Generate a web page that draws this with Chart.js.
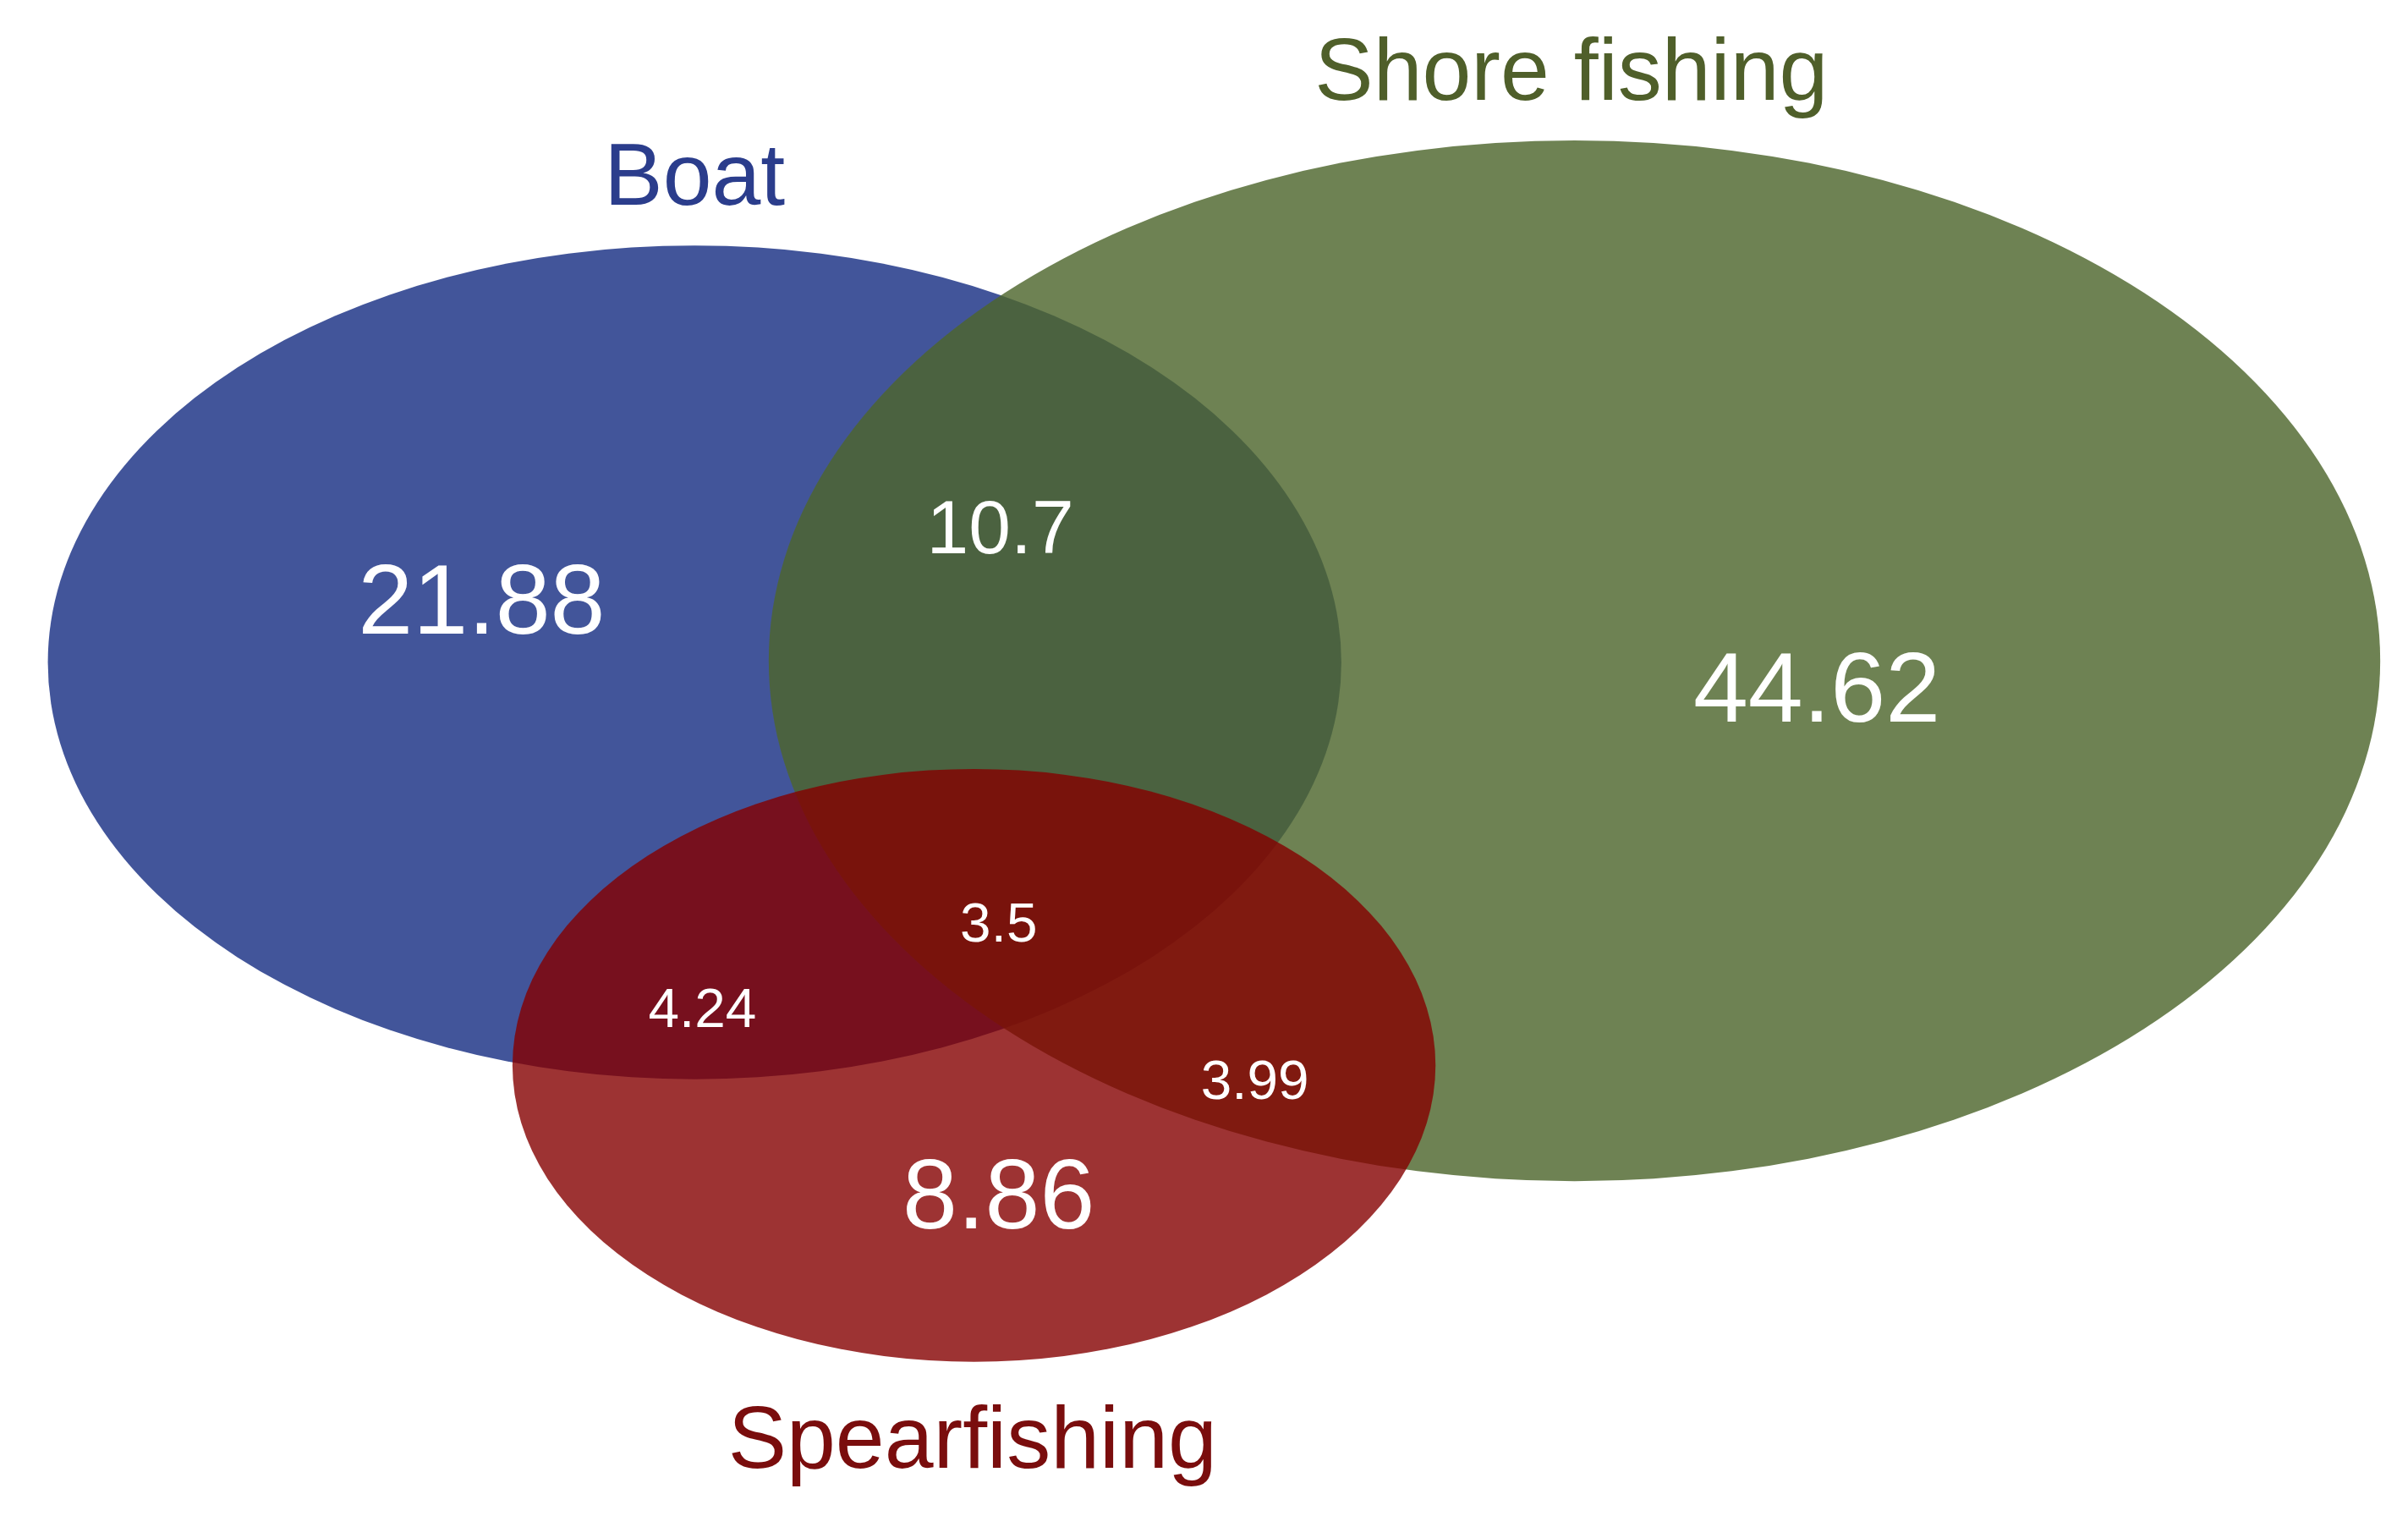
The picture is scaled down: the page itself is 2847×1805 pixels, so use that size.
<!DOCTYPE html>
<html><head><meta charset="utf-8">
<script src="https://cdn.jsdelivr.net/npm/chart.js@4"></script>
<style>html,body{margin:0;padding:0;background:#fff;overflow:hidden}</style>
</head><body>
<canvas id="c" width="2847" height="1805" style="width:2847px;height:1805px"></canvas>
<script>
// Sets
const setNames = ["Boat", "Shore fishing", "Spearfishing"];
const setCenterX = [450, 1020, 631];
const setCenterY = [429, 428, 690];
const setRadiusX = [419, 522, 299];
const setRadiusY = [270, 337, 192];
const setFill = ["rgba(40,62,140,0.88)", "rgba(78,103,45,0.82)", "rgba(132,0,0,0.8)"];
const setTitleColor = ["#2b3d8c", "#4f5f2a", "#7a0d0d"];
const setTitleX = [450, 1018, 630];
const setTitleY = [117, 49, 935];
// Region values
const regionValues = ["21.88", "10.7", "44.62", "3.5", "4.24", "3.99", "8.86"];
const regionX = [312, 648, 1177, 647, 455, 813, 647];
const regionY = [393, 345, 450, 600, 655, 702, 778];
const regionSize = [64, 49, 64, 36, 36, 36, 64];

const vennPlugin = {
  id: 'venn',
  afterDatasetsDraw(chart) {
    const ctx = chart.ctx, xs = chart.scales.x, ys = chart.scales.y;
    const k = (xs.getPixelForValue(1000) - xs.getPixelForValue(0)) / 1000;
    ctx.save();
    for (let i = 0; i < setNames.length; i++) {
      ctx.beginPath();
      ctx.ellipse(xs.getPixelForValue(setCenterX[i]), ys.getPixelForValue(setCenterY[i]),
        setRadiusX[i] * k, setRadiusY[i] * k, 0, 0, Math.PI * 2);
      ctx.fillStyle = setFill[i];
      ctx.fill();
    }
    ctx.textAlign = 'center'; ctx.textBaseline = 'middle';
    for (let i = 0; i < setNames.length; i++) {
      ctx.font = (57 * k) + 'px "Liberation Sans", Arial, sans-serif';
      ctx.fillStyle = setTitleColor[i];
      ctx.fillText(setNames[i], xs.getPixelForValue(setTitleX[i]), ys.getPixelForValue(setTitleY[i]));
    }
    ctx.fillStyle = '#ffffff';
    for (let i = 0; i < regionValues.length; i++) {
      ctx.font = (regionSize[i] * k) + 'px "Liberation Sans", Arial, sans-serif';
      ctx.fillText(regionValues[i], xs.getPixelForValue(regionX[i]), ys.getPixelForValue(regionY[i]));
    }
    ctx.restore();
  }
};

new Chart(document.getElementById('c'), {
  type: 'scatter',
  data: { datasets: [{ data: [], pointRadius: 0 }] },
  options: {
    responsive: false, animation: false, devicePixelRatio: 1,
    layout: { padding: 0 },
    plugins: { legend: { display: false }, tooltip: { enabled: false } },
    scales: {
      x: { type: 'linear', min: 0, max: 1560, display: false },
      y: { type: 'linear', min: 0, max: 989, reverse: true, display: false }
    }
  },
  plugins: [vennPlugin]
});
</script>
</body></html>
